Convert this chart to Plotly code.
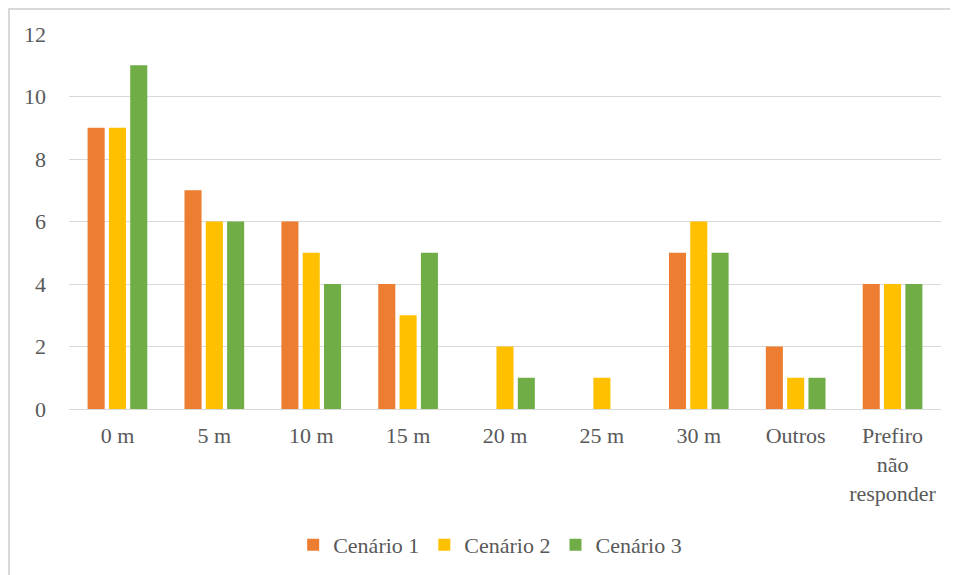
import plotly.graph_objects as go

categories = ["0 m", "5 m", "10 m", "15 m", "20 m", "25 m", "30 m", "Outros", "Prefiro<br>não<br>responder"]
cenario1 = [9, 7, 6, 4, 0, 0, 5, 2, 4]
cenario2 = [9, 6, 5, 3, 2, 1, 6, 1, 4]
cenario3 = [11, 6, 4, 5, 1, 0, 5, 1, 4]
series_names = ["Cenário 1", "Cenário 2", "Cenário 3"]
colors = ["#ED7D31", "#FFC000", "#70AD47"]

fig = go.Figure()
for name, vals, c in zip(series_names, [cenario1, cenario2, cenario3], colors):
    fig.add_trace(go.Bar(x=categories, y=vals, name=name, marker=dict(color=c, line=dict(width=0))))

FAMILY = "Liberation Serif"
SIZE = 22
def fnt():
    return dict(family=FAMILY, size=SIZE, color="#595959")

L, R, T, B = 61, 25, 26, 174
W, H = 958, 575
pw, ph = W - L - R, H - T - B
fig.update_layout(
    width=W, height=H,
    margin=dict(l=L, r=R, t=T, b=B),
    paper_bgcolor="white", plot_bgcolor="white",
    font=fnt(),
    barmode="group", bargap=0.34, bargroupgap=0.2,
    showlegend=True,
    legend=dict(orientation="h", x=0.483, xanchor="center", y=-(545 - 8 - (H - B)) / ph,
                yanchor="middle", font=fnt(), itemwidth=30, traceorder="normal"),
    xaxis=dict(showgrid=False, showline=True, linecolor="#D9D9D9", linewidth=1,
               ticks="", tickfont=fnt(), ticklabelstandoff=7, fixedrange=True),
    yaxis=dict(range=[0, 12], dtick=2, showgrid=True, gridcolor="#D9D9D9", gridwidth=1,
               zeroline=False, showline=False, ticks="",
               tickfont=fnt(), ticksuffix="    ", fixedrange=True),
    shapes=[dict(type="rect", xref="paper", yref="paper",
                 x0=-(L - 1) / pw, x1=1.2, y0=-0.6, y1=1 + (T - 1) / ph,
                 line=dict(color="#D9D9D9", width=2), fillcolor="rgba(0,0,0,0)", layer="below")],
)
fig.write_html("out.html")
